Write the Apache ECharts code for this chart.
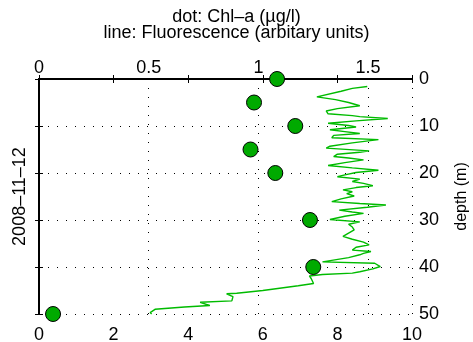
<!DOCTYPE html>
<html>
<head>
<meta charset="utf-8">
<script src="https://cdn.jsdelivr.net/npm/echarts@6/dist/echarts.min.js"></script>
<style>
  html, body { margin: 0; padding: 0; background: #fff; }
  #chart { width: 473px; height: 342px; }
</style>
</head>
<body>
<div id="chart"></div>
<script>
// Chl-a samples (top axis, ug/l) by depth
const chlDepth = [0, 5, 10, 15, 20, 30, 40, 50];
const chlValue = [1.085, 0.98, 1.168, 0.964, 1.077, 1.235, 1.25, 0.064];

// fluorescence profile (bottom axis, arbitrary units) by depth
const fluoDepth = [
  1.6, 2.0, 2.6, 3.8, 4.4, 5.0, 5.7, 6.3, 6.8, 7.4,
  7.8, 8.0, 8.4, 8.9, 9.4, 9.9, 10.2, 10.8, 11.2, 11.6,
  12.0, 12.5, 12.9, 13.6, 14.3, 14.7, 15.3, 15.6, 16.0, 16.5,
  16.8, 17.2, 17.8, 18.4, 18.9, 19.4, 19.9, 20.4, 20.8, 21.3,
  21.8, 22.2, 22.7, 23.1, 23.6, 24.0, 24.4, 24.9, 25.5, 26.1,
  26.5, 26.8, 27.3, 27.9, 28.3, 28.6, 29.2, 29.9, 30.4, 30.9,
  31.5, 32.1, 32.8, 33.5, 34.1, 34.7, 35.3, 35.8, 36.4, 36.7,
  37.1, 37.4, 38.0, 38.9, 39.2, 39.9, 40.4, 41.0, 41.3, 41.6,
  41.9, 42.5, 43.5, 44.0, 45.0, 45.6, 45.7, 46.3, 47.2, 47.5,
  48.2, 48.5, 49.0, 49.7, 50.0
];
const fluoValue = [
  8.80, 8.40, 8.10, 7.45, 7.95, 8.30, 8.60, 8.00, 7.70, 7.75,
  8.40, 8.60, 9.35, 8.50, 7.75, 8.30, 8.50, 7.80, 8.20, 8.60,
  7.90, 7.85, 9.10, 8.40, 7.80, 7.70, 8.85, 8.60, 8.00, 7.90,
  8.30, 8.70, 8.20, 7.75, 8.40, 9.10, 8.50, 8.20, 8.00, 8.60,
  8.40, 8.70, 8.95, 8.50, 8.15, 8.40, 8.25, 8.45, 8.10, 7.85,
  8.60, 9.30, 8.80, 8.05, 8.40, 8.70, 8.20, 7.80, 8.60, 8.30,
  8.40, 8.45, 8.30, 8.15, 8.40, 8.70, 8.85, 8.50, 8.40, 8.90,
  8.70, 8.60, 8.30, 7.60, 9.00, 9.15, 8.95, 8.60, 8.40, 7.60,
  7.25, 7.30, 7.36, 6.95, 6.00, 5.30, 5.03, 5.20, 5.17, 4.32,
  4.58, 3.90, 3.11, 2.98, 3.02
];

const titleText = 'dot: Chl\u2013a (\u00b5g/l)\nline: Fluorescence (arbitary units)';
const dateLabel = '2008\u201311\u201312';
const depthLabel = 'depth (m)';

const font = 'Liberation Sans, Arial, Helvetica, sans-serif';
const axisLine = { show: true, lineStyle: { color: '#000', width: 2 } };
const dotted = { show: true, lineStyle: { color: '#000', type: [1, 8], width: 1 } };
const tickIn = { show: true, inside: true, length: 4, lineStyle: { color: '#000' } };

const chart = echarts.init(document.getElementById('chart'), null, { renderer: 'canvas' });

chart.setOption({
  animation: false,
  backgroundColor: '#fff',
  textStyle: { fontFamily: font },
  title: {
    text: titleText,
    left: 'center',
    top: 9,
    padding: 0,
    textStyle: { fontFamily: font, fontSize: 18, fontWeight: 'normal', color: '#000', lineHeight: 16 }
  },
  grid: { left: 39, right: 61, top: 79, bottom: 28, containLabel: false, outerBoundsMode: 'none' },
  xAxis: [
    {
      type: 'value', position: 'bottom', min: 0, max: 10, interval: 2,
      axisLine: axisLine,
      axisTick: tickIn,
      axisLabel: { fontFamily: font, fontSize: 18, color: '#000', margin: 12 },
      splitLine: { show: false }
    },
    {
      type: 'value', position: 'top', min: 0, max: 1.7, interval: 0.5,
      axisLine: axisLine,
      axisTick: { show: false },
      axisLabel: {
        fontFamily: font, fontSize: 18, color: '#000', margin: 2,
        formatter: v => (Math.abs(v * 2 - Math.round(v * 2)) < 1e-6 ? String(v) : '')
      },
      splitLine: dotted
    },
    {
      type: 'value', position: 'top', min: 0, max: 10, interval: 2,
      axisLine: { show: false },
      axisTick: tickIn,
      axisLabel: { show: false },
      splitLine: { show: false }
    }
  ],
  yAxis: [
    {
      type: 'value', position: 'right', inverse: true, min: 0, max: 50, interval: 10,
      name: depthLabel, nameLocation: 'middle', nameRotate: 90, nameGap: 42,
      nameTextStyle: { fontFamily: font, fontSize: 16, color: '#000' },
      axisLine: axisLine,
      axisTick: tickIn,
      axisLabel: { fontFamily: font, fontSize: 18, color: '#000', margin: 7 },
      splitLine: dotted
    },
    {
      type: 'value', position: 'left', inverse: true, min: 0, max: 50, interval: 10,
      name: dateLabel, nameLocation: 'middle', nameRotate: 90, nameGap: 10,
      nameTextStyle: { fontFamily: font, fontSize: 18, color: '#000' },
      axisLine: axisLine,
      axisTick: tickIn,
      axisLabel: { show: false },
      splitLine: { show: false }
    }
  ],
  series: [
    {
      name: 'Fluorescence',
      type: 'line',
      xAxisIndex: 0,
      yAxisIndex: 0,
      symbol: 'none',
      clip: false,
      lineStyle: { color: '#00bb00', width: 1.4 },
      data: fluoDepth.map((d, i) => [fluoValue[i], d]),
      z: 3
    },
    {
      name: 'Chl-a',
      type: 'scatter',
      xAxisIndex: 1,
      yAxisIndex: 0,
      symbol: 'circle',
      symbolSize: 15,
      clip: false,
      itemStyle: { color: '#00aa00', borderColor: '#000', borderWidth: 1, opacity: 1 },
      data: chlDepth.map((d, i) => [chlValue[i], d]),
      z: 4
    }
  ]
});
</script>
</body>
</html>
